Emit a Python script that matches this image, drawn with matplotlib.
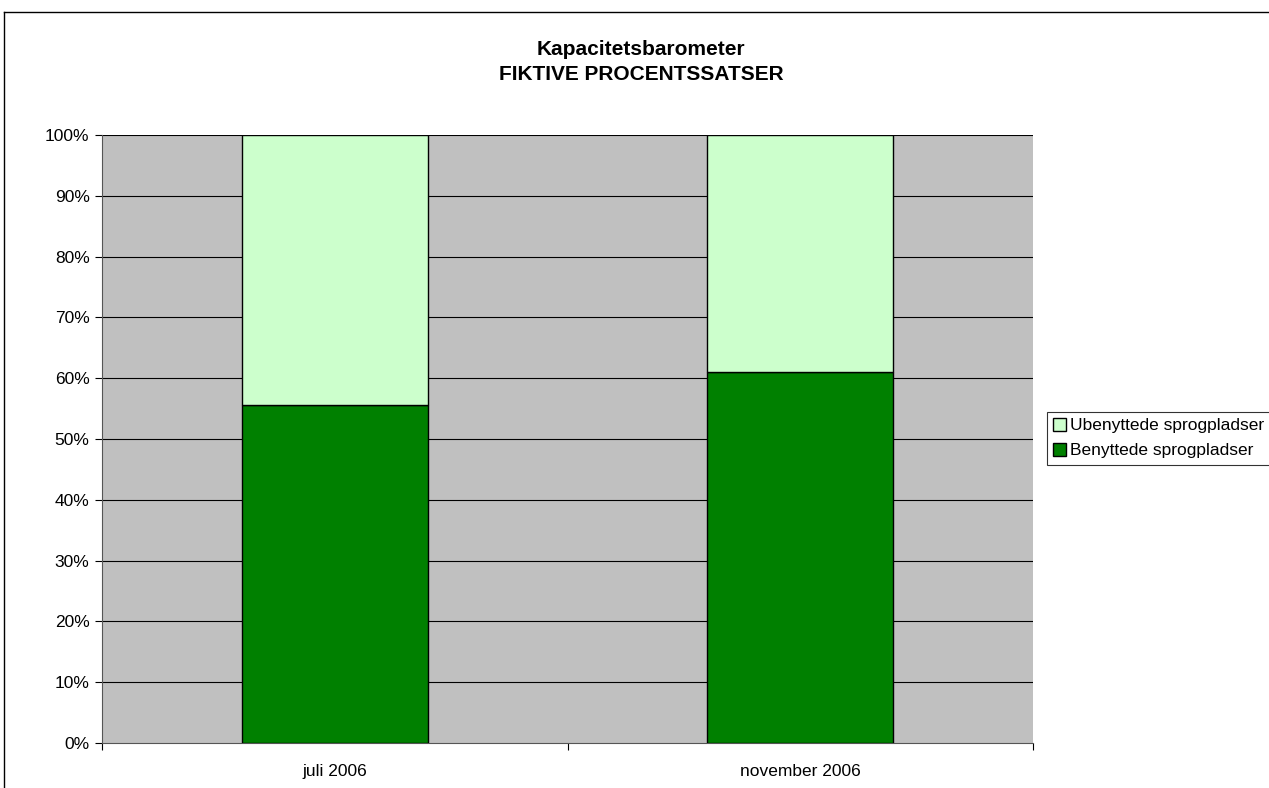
import matplotlib.pyplot as plt
from matplotlib.lines import Line2D
from matplotlib.ticker import PercentFormatter

plt.rcParams['font.family'] = ['Liberation Sans', 'DejaVu Sans']

# data
categories = ['juli 2006', 'november 2006']
used = [55.6, 61.0]      # Benyttede sprogpladser (%)
unused = [44.4, 39.0]    # Ubenyttede sprogpladser (%)

W, H = 1269, 788
fig = plt.figure(figsize=(W / 100, H / 100), dpi=100)
fig.patch.set_facecolor('white')

# plot area in pixels: left 102, right 1033, top 135, bottom 743
ax = fig.add_axes([102 / W, (H - 743) / H, (1033 - 102) / W, (743 - 135) / H])
ax.set_facecolor('#C0C0C0')

x = range(len(categories))
ax.bar(x, used, width=0.4, color='#008000', edgecolor='black', linewidth=1,
       label='Benyttede sprogpladser', zorder=3)
ax.bar(x, unused, width=0.4, bottom=used, color='#CCFFCC', edgecolor='black',
       linewidth=1, label='Ubenyttede sprogpladser', zorder=3)

ax.set_xlim(-0.5, 1.5)
ax.set_ylim(0, 100)
ax.set_yticks(range(0, 101, 10))
ax.yaxis.set_major_formatter(PercentFormatter(decimals=0))
for y in range(10, 101, 10):
    ax.axhline(y, color='black', linewidth=0.8, zorder=1)

ax.set_xticks(list(x))
ax.set_xticklabels(categories)
ax.set_xticks([-0.5, 0.5, 1.5], minor=True)
ax.tick_params(axis='x', which='major', length=0, pad=15, labelsize=12.5)
ax.tick_params(axis='x', which='minor', length=5, direction='out', width=0.8)
ax.tick_params(axis='y', length=5, direction='out', width=0.8, labelsize=12.5, pad=4)

for side in ['top', 'right']:
    ax.spines[side].set_visible(False)
ax.spines['left'].set_color('#555555')
ax.spines['bottom'].set_color('#555555')

fig.text(641 / W, 1 - 62 / H, 'Kapacitetsbarometer\nFIKTIVE PROCENTSSATSER',
         ha='center', va='center', fontsize=15, fontweight='bold', linespacing=1.38)

handles, labels = ax.get_legend_handles_labels()
leg = fig.legend(handles[::-1], labels[::-1], loc='upper left',
                 bbox_to_anchor=(1047 / W, 1 - 412 / H), fontsize=12.5,
                 frameon=True, fancybox=False, edgecolor='black',
                 handlelength=0.75, handleheight=0.75, handletextpad=0.2,
                 borderpad=0.35, labelspacing=0.55, borderaxespad=0)
leg.get_frame().set_linewidth(0.8)

# chart-area border (left and top edges visible)
fig.add_artist(Line2D([3.5 / W, 3.5 / W], [0, 1 - 11.5 / H], transform=fig.transFigure,
                      color='black', linewidth=1))
fig.add_artist(Line2D([3.5 / W, 1], [1 - 11.5 / H, 1 - 11.5 / H], transform=fig.transFigure,
                      color='black', linewidth=1))

fig.savefig('out.png', dpi=100)
